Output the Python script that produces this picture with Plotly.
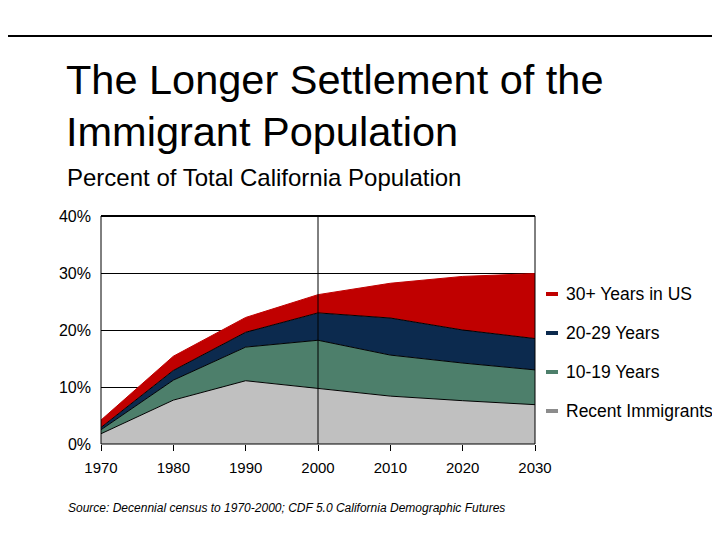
import plotly.graph_objects as go

# ---- data ----
years = [1970, 1980, 1990, 2000, 2010, 2020, 2030]
recent = [1.8, 7.7, 11.1, 9.7, 8.4, 7.6, 6.9]
yrs_10_19 = [0.7, 3.5, 5.9, 8.5, 7.2, 6.6, 6.1]
yrs_20_29 = [0.4, 1.7, 2.6, 4.8, 6.5, 5.8, 5.5]
yrs_30_plus = [1.3, 2.5, 2.6, 3.2, 6.1, 9.4, 11.4]
series_names = ["Recent Immigrants", "10-19 Years", "20-29 Years", "30+ Years in US"]
y_ticks = [0, 10, 20, 30, 40]
y_tick_labels = ["0%", "10%", "20%", "30%", "40%"]
census_end = 2000

FONT = "Liberation Sans, Arial, sans-serif"
fills = ["#C0C0C0", "#4D7F6B", "#0C2A4E", "#C00000"]
legend_marks = ["#8C8C8C", "#4D7F6B", "#0C2A4E", "#C00000"]
edge = ["#000000", "#000000", "#000000", "#C00000"]

# page body has an 8px default margin; work in screen pixels and shift
OFF = 8
W, H = 720, 540
L, R, T, B = 101 - OFF, 535 - OFF, 216 - OFF, 444 - OFF

def px_x(x):
    return (x - OFF - L) / (R - L)

def px_y(y):
    return (B - (y - OFF)) / (B - T)

fig = go.Figure()
for name, vals, fc, ec in zip(series_names, [recent, yrs_10_19, yrs_20_29, yrs_30_plus], fills, edge):
    fig.add_trace(go.Scatter(
        x=years, y=vals, name=name, stackgroup="one", mode="lines",
        line=dict(color=ec, width=1), fillcolor=fc, showlegend=False,
        hoverinfo="skip",
    ))

shapes = []
# top rule
shapes.append(dict(type="line", xref="paper", yref="paper", x0=px_x(0), x1=px_x(W + 10),
                   y0=px_y(36), y1=px_y(36), line=dict(color="black", width=2)))
# census/projection divider
shapes.append(dict(type="line", xref="x", yref="paper", x0=census_end, x1=census_end,
                   y0=0, y1=1, line=dict(color="black", width=1), layer="above"))
# frame
shapes.append(dict(type="rect", xref="paper", yref="paper", x0=0, x1=1, y0=0, y1=1,
                   line=dict(color="black", width=1), layer="above"))
shapes.append(dict(type="line", xref="paper", yref="paper", x0=0, x1=1, y0=1, y1=1,
                   line=dict(color="black", width=2), layer="above"))

annotations = []
annotations.append(dict(text="The Longer Settlement of the", xref="paper", yref="paper",
                        x=px_x(64), y=px_y(80), xanchor="left", yanchor="middle",
                        showarrow=False, font=dict(family=FONT, size=41.5, color="black")))
annotations.append(dict(text="Immigrant Population", xref="paper", yref="paper",
                        x=px_x(64), y=px_y(131), xanchor="left", yanchor="middle",
                        showarrow=False, font=dict(family=FONT, size=41.5, color="black")))
annotations.append(dict(text="Percent of Total California Population", xref="paper", yref="paper",
                        x=px_x(65), y=px_y(177), xanchor="left", yanchor="middle",
                        showarrow=False, font=dict(family=FONT, size=24, color="black")))
annotations.append(dict(text="<i>Source: Decennial census to 1970-2000; CDF 5.0 California Demographic Futures</i>",
                        xref="paper", yref="paper",
                        x=px_x(66), y=px_y(508), xanchor="left", yanchor="middle",
                        showarrow=False, font=dict(family=FONT, size=12, color="black")))

# legend (top to bottom: 30+, 20-29, 10-19, recent)
leg_y = [294, 333, 372, 411]
for i, idx in enumerate([3, 2, 1, 0]):
    yy = px_y(leg_y[i])
    shapes.append(dict(type="line", xref="paper", yref="paper", x0=px_x(546), x1=px_x(558),
                       y0=yy, y1=yy, line=dict(color=legend_marks[idx], width=4)))
    annotations.append(dict(text=series_names[idx], xref="paper", yref="paper",
                            x=px_x(564), y=yy, xanchor="left", yanchor="middle",
                            showarrow=False, font=dict(family=FONT, size=17.5, color="black")))

fig.update_layout(
    width=W, height=H,
    margin=dict(l=L, r=W - R, t=T, b=H - B, pad=0),
    paper_bgcolor="white", plot_bgcolor="white",
    font=dict(family=FONT, color="black"),
    shapes=shapes, annotations=annotations,
    showlegend=False,
    xaxis=dict(range=[years[0], years[-1]], tickvals=years, ticks="outside", ticklen=6,
               tickcolor="black", showgrid=False, zeroline=False, showline=False,
               ticklabelstandoff=4,
               tickfont=dict(family=FONT, size=15, color="black")),
    yaxis=dict(range=[y_ticks[0], y_ticks[-1]], tickvals=y_ticks, ticktext=y_tick_labels,
               showgrid=True, gridcolor="black", gridwidth=1, zeroline=False,
               showline=False, ticks="", ticklabelstandoff=9,
               tickfont=dict(family=FONT, size=16, color="black")),
)

fig.write_html("out.html")
